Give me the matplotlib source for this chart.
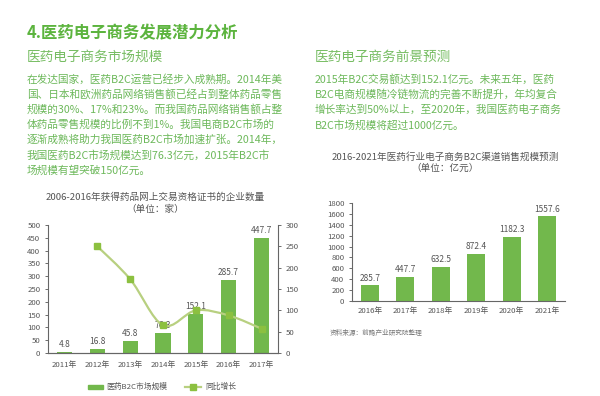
import numpy as np
import matplotlib
matplotlib.use('Agg')
import matplotlib.pyplot as plt
from matplotlib.path import Path
from matplotlib.patches import PathPatch, Rectangle
from matplotlib.lines import Line2D

plt.rcParams['font.family'] = ['Noto Sans CJK SC', 'DejaVu Sans']

# data
years_left = ['2011年', '2012年', '2013年', '2014年', '2015年', '2016年', '2017年']
market_size = [4.8, 16.8, 45.8, 76.3, 152.1, 285.7, 447.7]
growth = [None, 250, 173, 65, 100, 88, 57]

years_right = ['2016年', '2017年', '2018年', '2019年', '2020年', '2021年']
forecast = [285.7, 447.7, 632.5, 872.4, 1182.3, 1557.6]

left_text = ['在发达国家，医药B2C运营已经步入成熟期。2014年美',
             '国、日本和欧洲药品网络销售额已经占到整体药品零售',
             '规模的30%、17%和23%。而我国药品网络销售额占整',
             '体药品零售规模的比例不到1%。我国电商B2C市场的',
             '逐渐成熟将助力我国医药B2C市场加速扩张。2014年，',
             '我国医药B2C市场规模达到76.3亿元，2015年B2C市',
             '场规模有望突破150亿元。']
right_text = ['2015年B2C交易额达到152.1亿元。未来五年，医药',
              'B2C电商规模随冷链物流的完善不断提升，年均复合',
              '增长率达到50%以上，至2020年，我国医药电子商务',
              'B2C市场规模将超过1000亿元。']

W, H = 600, 396
bar_c = '#72b84c'
line_c = '#b8d080'
mark_c = '#8cc040'
title_c = '#5cb43e'
sub_c = '#77bd63'
body_c = '#6cb85a'
grey = '#555555'

fig = plt.figure(figsize=(6, 3.96), dpi=100)
fig.patch.set_facecolor('white')

def ft(x, y, s, **kw):
    fig.text(x / W, 1 - y / H, s, va='center', **kw)

ft(27, 33, '4.医药电子商务发展潜力分析', fontsize=11.8, color=title_c, fontweight='bold')
ft(27, 57, '医药电子商务市场规模', fontsize=9.8, color=sub_c)
ft(315, 57, '医药电子商务前景预测', fontsize=9.8, color=sub_c)
for i, line in enumerate(left_text):
    ft(27, 79 + i * 15.2, line, fontsize=7.7, color=body_c)
for i, line in enumerate(right_text):
    ft(315, 79 + i * 15.4, line, fontsize=7.7, color=body_c)

ft(155, 197, '2006-2016年获得药品网上交易资格证书的企业数量', fontsize=6.9, color=grey, ha='center')
ft(155, 209, '（单位：家）', fontsize=6.9, color=grey, ha='center')
ft(445, 157, '2016-2021年医药行业电子商务B2C渠道销售规模预测', fontsize=6.9, color=grey, ha='center')
ft(445, 168, '（单位：亿元）', fontsize=6.9, color=grey, ha='center')
ft(330, 333, '资料来源：前瞻产业研究院整理', fontsize=4.8, color='#777777')

# left chart
ax = fig.add_axes([48 / W, 1 - 353 / H, 230 / W, 128 / H])
x = np.arange(len(years_left))
ax.bar(x, market_size, width=0.46, color=bar_c, zorder=2)
for xi, v in zip(x, market_size):
    ax.text(xi, v + 12, f'{v}', ha='center', va='bottom', fontsize=6, color=grey, zorder=5)
ax.set_ylim(0, 500)
ax.set_xlim(-0.5, len(x) - 0.5)
ax.set_yticks(range(0, 501, 50))
ax.set_xticks(x)
ax.set_xticklabels(years_left)
ax2 = ax.twinx()
ax2.set_ylim(0, 300)
ax2.set_yticks(range(0, 301, 50))
gx = [xi for xi, g in zip(x, growth) if g is not None]
gy = [g for g in growth if g is not None]
# smooth curve through the points (Catmull-Rom as cubic Bezier)
pts = np.column_stack([gx, gy]).astype(float)
verts = [tuple(pts[0])]
codes = [Path.MOVETO]
for i in range(len(pts) - 1):
    p0 = pts[i - 1] if i > 0 else pts[i]
    p1, p2 = pts[i], pts[i + 1]
    p3 = pts[i + 2] if i + 2 < len(pts) else pts[i + 1]
    c1 = p1 + (p2 - p0) / 6
    c2 = p2 - (p3 - p1) / 6
    verts += [tuple(c1), tuple(c2), tuple(p2)]
    codes += [Path.CURVE4] * 3
ax2.add_patch(PathPatch(Path(verts, codes), facecolor='none', edgecolor=line_c, lw=1.6, zorder=3))
ax2.plot(gx, gy, ls='none', marker='s', ms=4.5, color=mark_c, zorder=4)

for a in (ax, ax2):
    a.spines['top'].set_visible(False)
    for s in ('left', 'right', 'bottom'):
        a.spines[s].set_color('#666666')
        a.spines[s].set_linewidth(0.8)
    a.tick_params(labelsize=5.6, colors=grey, length=2, width=0.6)
ax.spines['right'].set_visible(False)
ax2.spines['left'].set_visible(False)
ax.tick_params(axis='x', length=0, pad=6)

# legend, drawn by hand to match spacing
ly = 1 - 387 / H
fig.add_artist(Rectangle((88 / W, ly - 2 / H), 15 / W, 4 / H, color=bar_c, transform=fig.transFigure))
ft(106, 387, '医药B2C市场规模', fontsize=5.6, color=grey)
fig.add_artist(Line2D([185 / W, 201 / W], [ly, ly], color=line_c, lw=1.6, transform=fig.transFigure))
fig.add_artist(Line2D([193 / W], [ly], ls='none', marker='s', ms=4.5, color=mark_c, transform=fig.transFigure))
ft(205, 387, '同比增长', fontsize=5.6, color=grey)

# right chart
bx = fig.add_axes([352 / W, 1 - 301 / H, 213 / W, 98 / H])
xr = np.arange(len(years_right))
bx.bar(xr, forecast, width=0.52, color=bar_c)
for xi, v in zip(xr, forecast):
    bx.text(xi, v + 40, f'{v}', ha='center', va='bottom', fontsize=6, color=grey)
bx.set_ylim(0, 1800)
bx.set_xlim(-0.5, len(xr) - 0.5)
bx.set_yticks(range(0, 1801, 200))
bx.set_xticks(xr)
bx.set_xticklabels(years_right)
for s in ('top', 'right'):
    bx.spines[s].set_visible(False)
for s in ('left', 'bottom'):
    bx.spines[s].set_color('#666666')
    bx.spines[s].set_linewidth(0.8)
bx.tick_params(labelsize=5.6, colors=grey, length=2, width=0.6)
bx.tick_params(axis='x', length=0, pad=4)

fig.savefig('out.png', dpi=100)
